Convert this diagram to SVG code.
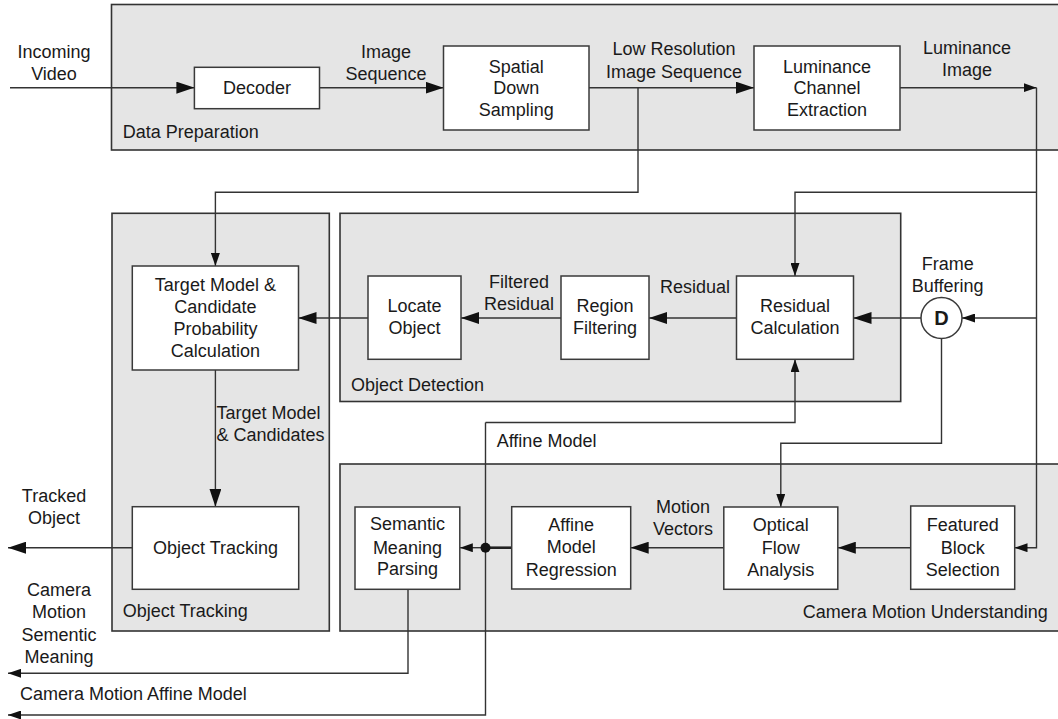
<svg xmlns="http://www.w3.org/2000/svg" width="1058" height="719" viewBox="0 0 1058 719">
<style>
text{font-family:"Liberation Sans",Arial,Helvetica,sans-serif;font-size:18px;fill:#1a1a1a}
.c{text-anchor:middle}
.e{text-anchor:end}
.panel{fill:#e5e5e5;stroke:#333;stroke-width:1.6}
.box{fill:#fff;stroke:#3a3a3a;stroke-width:1.5}
.ln{fill:none;stroke:#333;stroke-width:1.4}
.L{marker-end:url(#big)}
.S{marker-end:url(#small)}
</style>
<defs>
<marker id="big" markerUnits="userSpaceOnUse" markerWidth="18" markerHeight="12" viewBox="0 0 18 12" refX="18" refY="6" orient="auto"><path d="M0,0 L18,6 L0,12 Z" fill="#111"/></marker>
<marker id="small" markerUnits="userSpaceOnUse" markerWidth="13" markerHeight="9" viewBox="0 0 13 9" refX="13" refY="4.5" orient="auto"><path d="M0,0 L13,4.5 L0,9 Z" fill="#111"/></marker>
</defs>
<rect width="1058" height="719" fill="#fff"/>

<g id="panels">
<rect id="data-preparation" class="panel" x="111.5" y="4.5" width="960" height="145.5"/>
<rect id="object-tracking-panel" class="panel" x="112" y="213.3" width="217.3" height="417.7"/>
<rect id="object-detection" class="panel" x="340" y="213.3" width="560.7" height="188.2"/>
<rect id="camera-motion" class="panel" x="340" y="464" width="730" height="167"/>
<text x="122.7" y="138">Data Preparation</text>
<text x="351" y="391">Object Detection</text>
<text x="122.7" y="617">Object Tracking</text>
<text class="e" x="1047.8" y="618.3">Camera Motion Understanding</text>
</g>

<g id="connectors">
<path class="ln L" d="M10,87.7 H194.4"/>
<path class="ln L" d="M319.5,87.7 H443.5"/>
<path class="ln L" d="M589,87.7 H754"/>
<path class="ln S" d="M900,87.7 H1036.5"/>
<path class="ln S" d="M1036.5,87.7 V547.7 H1014.5"/>
<path class="ln S" d="M1036.5,192.3 H795 V276"/>
<path class="ln S" d="M1036.5,318 H962"/>
<path class="ln S" d="M638,87.7 V192.3 H215.4 V266"/>
<path class="ln L" d="M215.4,370 V506.7"/>
<path class="ln L" d="M368,318 H298.5"/>
<path class="ln L" d="M561,318 H461"/>
<path class="ln L" d="M736.5,318 H649"/>
<path class="ln L" d="M921,318 H853.5"/>
<path class="ln S" d="M941.5,338.5 V443.3 H780.8 V507"/>
<path class="ln L" d="M910.7,547.7 H837.8"/>
<path class="ln L" d="M723.8,547.7 H630.7"/>
<path fill="none" stroke="#222" stroke-width="2.6" d="M511.7,547.7 H485.5"/>
<path class="ln S" d="M485.5,547.7 H459.8"/>
<path class="ln S" d="M485.5,422.5 H795 V359.3"/>
<path class="ln S" d="M485.5,422.5 V715 H8"/>
<path class="ln S" d="M408,589.3 V673.3 H8"/>
<path class="ln L" d="M132.3,547.7 H8"/>
<circle cx="485.5" cy="547.7" r="5" fill="#111"/>
<text class="c" x="54" y="57.7">Incoming</text>
<text class="c" x="54" y="80">Video</text>
<text class="c" x="386" y="57.7">Image</text>
<text class="c" x="386" y="80">Sequence</text>
<text class="c" x="674" y="55.3">Low Resolution</text>
<text class="c" x="674" y="77.7">Image Sequence</text>
<text class="c" x="967" y="53.7">Luminance</text>
<text class="c" x="967" y="76">Image</text>
<text x="216.5" y="419.3">Target Model</text>
<text x="216.5" y="441">&amp; Candidates</text>
<text class="c" x="519" y="288">Filtered</text>
<text class="c" x="519" y="310">Residual</text>
<text class="c" x="695" y="293.3">Residual</text>
<text class="c" x="947.7" y="270">Frame</text>
<text class="c" x="947.7" y="292">Buffering</text>
<text x="496.7" y="446.7">Affine Model</text>
<text class="c" x="683" y="512.7">Motion</text>
<text class="c" x="683" y="535">Vectors</text>
<text class="c" x="54" y="501.7">Tracked</text>
<text class="c" x="54" y="523.7">Object</text>
<text class="c" x="59" y="596">Camera</text>
<text class="c" x="59" y="618.3">Motion</text>
<text class="c" x="59" y="641">Sementic</text>
<text class="c" x="59" y="662.7">Meaning</text>
<text x="20" y="700">Camera Motion Affine Model</text>
</g>

<g id="decoder">
<rect class="box" x="194.4" y="67.3" width="125.1" height="41.4"/>
<text class="c" x="257" y="93.7">Decoder</text>
</g>
<g id="spatial-down-sampling">
<rect class="box" x="443.5" y="46" width="145.5" height="84"/>
<text class="c" x="516.2" y="72.7">Spatial</text>
<text class="c" x="516.2" y="93.7">Down</text>
<text class="c" x="516.2" y="116">Sampling</text>
</g>
<g id="luminance-channel-extraction">
<rect class="box" x="754" y="46" width="146" height="84"/>
<text class="c" x="827" y="72.7">Luminance</text>
<text class="c" x="827" y="93.7">Channel</text>
<text class="c" x="827" y="116">Extraction</text>
</g>
<g id="target-model">
<rect class="box" x="132.3" y="266" width="166.2" height="104"/>
<text class="c" x="215.4" y="291">Target Model &amp;</text>
<text class="c" x="215.4" y="312.7">Candidate</text>
<text class="c" x="215.4" y="335">Probability</text>
<text class="c" x="215.4" y="356.7">Calculation</text>
</g>
<g id="locate-object">
<rect class="box" x="368" y="276" width="93" height="83.3"/>
<text class="c" x="414.5" y="312">Locate</text>
<text class="c" x="414.5" y="334.3">Object</text>
</g>
<g id="region-filtering">
<rect class="box" x="561" y="276" width="88" height="83.3"/>
<text class="c" x="605" y="312">Region</text>
<text class="c" x="605" y="334.3">Filtering</text>
</g>
<g id="residual-calculation">
<rect class="box" x="736.5" y="276" width="117" height="83.3"/>
<text class="c" x="795" y="312">Residual</text>
<text class="c" x="795" y="334.3">Calculation</text>
</g>
<g id="frame-buffer">
<circle cx="941.5" cy="318" r="20.5" fill="#fff" stroke="#3a3a3a" stroke-width="1.5"/>
<text class="c" x="941.5" y="325.3" style="font-weight:bold;font-size:20px">D</text>
</g>
<g id="object-tracking">
<rect class="box" x="132.3" y="506.7" width="166.4" height="82.6"/>
<text class="c" x="215.5" y="553.7">Object Tracking</text>
</g>
<g id="semantic-meaning-parsing">
<rect class="box" x="355" y="507" width="104.8" height="82.3"/>
<text class="c" x="407.4" y="530.3">Semantic</text>
<text class="c" x="407.4" y="553.7">Meaning</text>
<text class="c" x="407.4" y="575.3">Parsing</text>
</g>
<g id="affine-model-regression">
<rect class="box" x="511.7" y="506.7" width="119" height="82.3"/>
<text class="c" x="571.2" y="531">Affine</text>
<text class="c" x="571.2" y="553.3">Model</text>
<text class="c" x="571.2" y="576">Regression</text>
</g>
<g id="optical-flow-analysis">
<rect class="box" x="723.8" y="507" width="114" height="82.3"/>
<text class="c" x="780.8" y="531">Optical</text>
<text class="c" x="780.8" y="553.7">Flow</text>
<text class="c" x="780.8" y="576">Analysis</text>
</g>
<g id="featured-block-selection">
<rect class="box" x="910.7" y="506" width="104" height="83.3"/>
<text class="c" x="962.7" y="531">Featured</text>
<text class="c" x="962.7" y="553.7">Block</text>
<text class="c" x="962.7" y="576">Selection</text>
</g>
</svg>
